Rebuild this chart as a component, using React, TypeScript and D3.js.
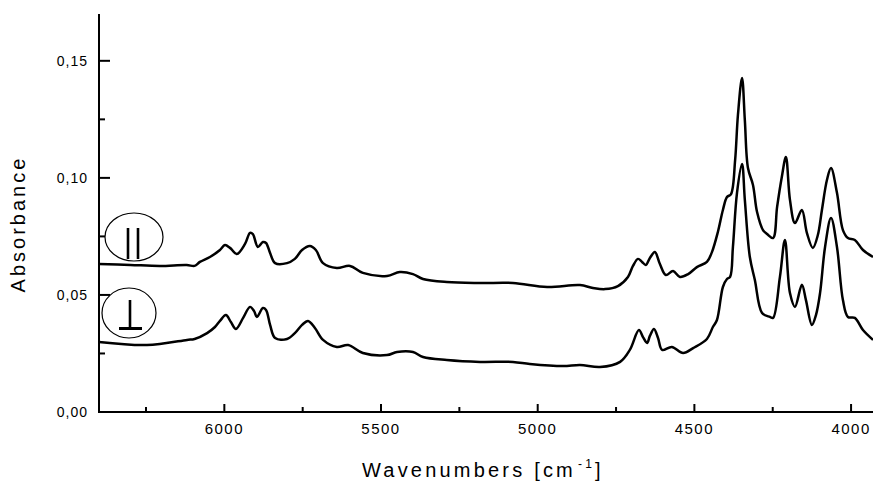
import React from "react";
import * as d3 from "d3";

// Wavenumber (cm^-1) and absorbance for the parallel (||) spectrum
const parallelWn = [6400, 6300, 6205, 6120, 6095, 6078, 6046, 6014, 5998, 5982, 5960, 5934, 5918, 5909, 5893, 5877, 5867, 5854, 5838, 5800, 5775, 5752, 5727, 5708, 5685, 5641, 5599, 5558, 5481, 5440, 5398, 5366, 5290, 5184, 5079, 4970, 4865, 4824, 4785, 4744, 4712, 4696, 4680, 4667, 4655, 4642, 4626, 4610, 4591, 4568, 4546, 4520, 4492, 4460, 4444, 4425, 4409, 4396, 4383, 4370, 4361, 4348, 4339, 4329, 4313, 4300, 4281, 4268, 4249, 4236, 4221, 4208, 4195, 4179, 4157, 4141, 4122, 4106, 4093, 4077, 4064, 4045, 4026, 4010, 3988, 3962, 3930];
const parallelAbs = [0.0632, 0.0628, 0.0624, 0.0628, 0.0624, 0.0641, 0.0662, 0.0692, 0.0713, 0.0701, 0.0675, 0.0718, 0.0765, 0.076, 0.0705, 0.0726, 0.0722, 0.0679, 0.0636, 0.0636, 0.0654, 0.0692, 0.0709, 0.0692, 0.0636, 0.0615, 0.0624, 0.0594, 0.0581, 0.0598, 0.0589, 0.0568, 0.0555, 0.0551, 0.0551, 0.0534, 0.0542, 0.053, 0.0525, 0.0538, 0.0577, 0.0624, 0.0654, 0.0641, 0.0628, 0.0658, 0.0683, 0.0632, 0.0585, 0.0602, 0.0577, 0.0589, 0.0619, 0.0641, 0.0683, 0.0769, 0.0863, 0.0918, 0.0931, 0.1076, 0.1269, 0.1427, 0.1247, 0.1042, 0.097, 0.0854, 0.0777, 0.076, 0.0743, 0.0876, 0.1004, 0.1089, 0.0906, 0.0807, 0.0863, 0.0765, 0.0701, 0.0756, 0.0863, 0.0991, 0.1042, 0.0936, 0.0777, 0.0743, 0.0735, 0.0692, 0.0662];

// Wavenumber (cm^-1) and absorbance for the perpendicular (⊥) spectrum
const perpWn = [6400, 6247, 6119, 6095, 6055, 6030, 6014, 5995, 5979, 5963, 5940, 5918, 5905, 5896, 5877, 5867, 5854, 5838, 5800, 5775, 5752, 5733, 5711, 5685, 5641, 5605, 5558, 5481, 5449, 5398, 5366, 5290, 5184, 5079, 5025, 4919, 4865, 4801, 4737, 4706, 4677, 4664, 4651, 4642, 4629, 4616, 4603, 4572, 4536, 4504, 4460, 4441, 4428, 4409, 4396, 4386, 4377, 4364, 4348, 4339, 4323, 4307, 4284, 4259, 4249, 4227, 4211, 4195, 4179, 4157, 4144, 4125, 4112, 4099, 4083, 4064, 4045, 4026, 4010, 3988, 3962, 3930];
const perpAbs = [0.0299, 0.0286, 0.0308, 0.0312, 0.0337, 0.0363, 0.0389, 0.0414, 0.0384, 0.0355, 0.0402, 0.0449, 0.0431, 0.0406, 0.0444, 0.0436, 0.0372, 0.0316, 0.0312, 0.0337, 0.0372, 0.0389, 0.0359, 0.0308, 0.0278, 0.0286, 0.0252, 0.0243, 0.0256, 0.0256, 0.0235, 0.0222, 0.0214, 0.0214, 0.0205, 0.0196, 0.0201, 0.0192, 0.0214, 0.0265, 0.035, 0.032, 0.0295, 0.0325, 0.0355, 0.0316, 0.0265, 0.0278, 0.0252, 0.0273, 0.0312, 0.0363, 0.0393, 0.0534, 0.0568, 0.0577, 0.0705, 0.0936, 0.1059, 0.0906, 0.0662, 0.0564, 0.0423, 0.0406, 0.0402, 0.0577, 0.0735, 0.0508, 0.0449, 0.0543, 0.0478, 0.0372, 0.0414, 0.0508, 0.0705, 0.0829, 0.0705, 0.0478, 0.0406, 0.0402, 0.035, 0.0308];

const xMajorTicks = [6000, 5500, 5000, 4500, 4000];
const xMinorTicks = [6250, 5750, 5250, 4750, 4250];
const yMajorTicks = [0, 0.05, 0.1, 0.15];
const yMinorTicks = [0.025, 0.075, 0.125];
const xTitle = "Wavenumbers [cm";
const yTitle = "Absorbance";

const W = 873;
const H = 481;
const FONT = "'Liberation Sans', Arial, Helvetica, sans-serif";

export default function App() {
  const x = d3.scaleLinear().domain([6400, 3930]).range([99, 873]);
  const y = d3.scaleLinear().domain([0, 0.17]).range([412, 14]);

  const line = d3
    .line<[number, number]>()
    .x((d) => x(d[0]))
    .y((d) => y(d[1]))
    .curve(d3.curveCatmullRom.alpha(0.5));

  const par: [number, number][] = parallelWn.map((w, i) => [w, parallelAbs[i]]);
  const perp: [number, number][] = perpWn.map((w, i) => [w, perpAbs[i]]);

  const fmt = (v: number) => d3.format(".2f")(v).replace(".", ",");
  const x0 = x.range()[0];
  const xEnd = x.range()[1];
  const y0 = y(0);

  return (
    <svg
      width={W}
      height={H}
      style={{ position: "absolute", left: 0, top: 0, background: "#fff" }}
      fontFamily={FONT}
    >
      <rect x={0} y={0} width={W} height={H} fill="#fff" />
      {/* spectra */}
      <path d={line(par) || ""} fill="none" stroke="#000" strokeWidth={2.5} strokeLinejoin="round" />
      <path d={line(perp) || ""} fill="none" stroke="#000" strokeWidth={2.5} strokeLinejoin="round" />

      {/* axes */}
      <line x1={x0} x2={x0} y1={y(0.17)} y2={y0 + 1} stroke="#000" strokeWidth={2} />
      <line x1={x0 - 1} x2={xEnd} y1={y0} y2={y0} stroke="#000" strokeWidth={2} />

      {yMajorTicks.map((t) => (
        <g key={"ym" + t}>
          {t > 0 && <line x1={x0} x2={x0 + 11} y1={y(t)} y2={y(t)} stroke="#000" strokeWidth={2} />}
          <text x={88} y={y(t)} dy="0.36em" textAnchor="end" fontSize={14} letterSpacing={1}>
            {fmt(t)}
          </text>
        </g>
      ))}
      {yMinorTicks.map((t) => (
        <line key={"yn" + t} x1={x0} x2={x0 + 6} y1={y(t)} y2={y(t)} stroke="#000" strokeWidth={2} />
      ))}
      {xMajorTicks.map((t) => (
        <g key={"xm" + t}>
          <line x1={x(t)} x2={x(t)} y1={y0} y2={y0 - 8} stroke="#000" strokeWidth={2} />
          <text x={x(t)} y={434} textAnchor="middle" fontSize={15} letterSpacing={1.5}>
            {String(t)}
          </text>
        </g>
      ))}
      {xMinorTicks.map((t) => (
        <line key={"xn" + t} x1={x(t)} x2={x(t)} y1={y0} y2={y0 - 5} stroke="#000" strokeWidth={2} />
      ))}

      {/* axis titles */}
      <text x={362} y={477} fontSize={20} letterSpacing={3.2}>
        {xTitle}
        <tspan fontSize={12} dy={-9} dx={2}>-1</tspan>
        <tspan dy={9}>]</tspan>
      </text>
      <text
        transform={`translate(25, 224) rotate(-90)`}
        textAnchor="middle"
        fontSize={20}
        letterSpacing={3}
      >
        {yTitle}
      </text>

      {/* legend markers */}
      <ellipse cx={134} cy={237} rx={29} ry={24} fill="none" stroke="#000" strokeWidth={1.2} />
      <line x1={128} x2={128} y1={228} y2={259} stroke="#000" strokeWidth={2.6} />
      <line x1={138} x2={138} y1={228} y2={259} stroke="#000" strokeWidth={2.6} />

      <ellipse cx={129} cy={313} rx={27} ry={25} fill="none" stroke="#000" strokeWidth={1.2} />
      <line x1={130} x2={130} y1={300} y2={328} stroke="#000" strokeWidth={2.6} />
      <line x1={119} x2={142} y1={328.5} y2={328.5} stroke="#000" strokeWidth={3} />
    </svg>
  );
}
